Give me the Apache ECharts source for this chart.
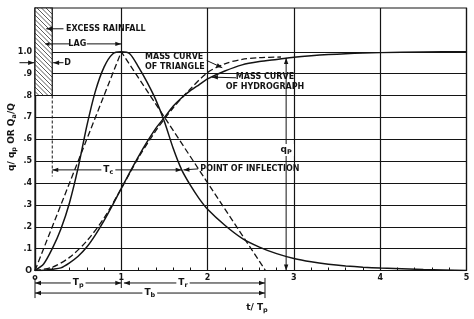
<!DOCTYPE html>
<html><head><meta charset="utf-8">
<script src="https://cdn.jsdelivr.net/npm/echarts@6/dist/echarts.min.js"></script>
<style>html,body{margin:0;padding:0;background:#fff}#c{width:474px;height:319px}</style>
</head><body><div id="c"></div>
<script>
// Dimensionless unit hydrograph
const tHydro    = [0,0.1,0.2,0.3,0.4,0.5,0.6,0.7,0.8,0.9,1.0,1.1,1.2,1.3,1.4,1.5,1.6,1.7,1.8,1.9,2.0,2.2,2.4,2.6,2.8,3.0,3.2,3.4,3.6,3.8,4.0,4.5,5.0];
const qHydro    = [0,0.03,0.10,0.19,0.31,0.47,0.66,0.82,0.93,0.99,1.0,0.99,0.93,0.86,0.78,0.68,0.56,0.46,0.39,0.33,0.28,0.207,0.147,0.107,0.077,0.055,0.04,0.029,0.021,0.015,0.011,0.005,0];
const massHydro = [0,0.001,0.006,0.012,0.035,0.065,0.107,0.163,0.228,0.30,0.375,0.45,0.522,0.589,0.65,0.70,0.751,0.79,0.822,0.849,0.876,0.912,0.940,0.955,0.965,0.975,0.982,0.987,0.991,0.994,0.996,0.999,1.0];
// Triangular hydrograph
const tTriangle = [0,1.0,2.67];
const qTriangle = [0,1.0,0];
// Mass curve of triangle
const tTriMass = [0,0.2,0.4,0.6,0.8,1.0,1.2,1.4,1.6,1.8,2.0,2.2,2.4,2.6,2.85];
const triMass  = [0,0.015,0.06,0.135,0.24,0.375,0.516,0.639,0.743,0.83,0.905,0.945,0.965,0.973,0.976];
// Horizontal grid values
const gridValues = [0.1,0.2,0.3,0.4,0.5,0.6,0.7,0.8,0.9,1.0];

const zip = (a,b)=>a.map((v,i)=>[v,b[i]]);
const INK = '#141414';
const FONT = 'DejaVu Sans';

const chart = echarts.init(document.getElementById('c'), null, {renderer:'canvas'});
chart.setOption({
  animation:false,
  backgroundColor:'#fff',
  grid:{left:35, right:7.5, top:8, bottom:48.5, show:true, borderColor:INK, borderWidth:1.2, backgroundColor:'transparent'},
  xAxis:{type:'value', min:0, max:5, interval:1,
    axisLine:{lineStyle:{color:INK,width:1.2}},
    axisTick:{show:true, inside:true, length:3, lineStyle:{color:INK}},
    minorTick:{show:true, splitNumber:5, length:3, lineStyle:{color:INK}},
    splitLine:{show:true, lineStyle:{color:INK,width:1.2}},
    axisLabel:{margin:3, fontSize:8, fontWeight:'bold', fontFamily:FONT, color:INK,
      formatter:v=> v===0 ? 'o' : String(v)}
  },
  yAxis:{type:'value', min:0, max:1.2, interval:0.1,
    axisLine:{show:true, lineStyle:{color:INK,width:1.2}},
    axisTick:{show:false},
    splitLine:{show:false},
    axisLabel:{margin:3, fontSize:8, fontWeight:'bold', fontFamily:FONT, color:INK,
      formatter:v=> v>1.01 ? '' : (v===0 ? 'O' : (v>0.99 ? '1.0' : '.'+Math.round(v*10)))}
  },
  series:[
    {type:'line', data:[], silent:true,
      markLine:{silent:true, symbol:'none', label:{show:false},
        lineStyle:{color:INK, width:1.2, type:'solid'},
        data:gridValues.map(v=>({yAxis:v}))}},
    {name:'hydrograph', type:'line', data:zip(tHydro,qHydro), smooth:0.25, symbol:'none',
      lineStyle:{color:INK,width:1.5}},
    {name:'mass hydrograph', type:'line', data:zip(tHydro,massHydro), smooth:0.25, symbol:'none',
      lineStyle:{color:INK,width:1.5}},
    {name:'triangle', type:'line', data:zip(tTriangle,qTriangle), symbol:'none',
      lineStyle:{color:INK,width:1.3,type:[6,3]}},
    {name:'mass triangle', type:'line', data:zip(tTriMass,triMass), smooth:0.3, symbol:'none',
      lineStyle:{color:INK,width:1.3,type:[6,3]}}
  ]
});

// Annotation helpers (positions in data units, mapped through the chart scale)
const o = chart.convertToPixel({gridIndex:0},[0,0]);
const u = chart.convertToPixel({gridIndex:0},[1,1]);
const P = (t,v)=>[o[0]+(u[0]-o[0])*t, o[1]+(u[1]-o[1])*v];
const G = [];
const Z = 50;
function line(a,b,w,dash){G.push({type:'line',z:Z,shape:{x1:a[0],y1:a[1],x2:b[0],y2:b[1]},style:{stroke:INK,lineWidth:w||1,lineDash:dash||null}});}
function head(from,tip,L,W){
  L=L||6;W=W||2.2;
  const dx=tip[0]-from[0], dy=tip[1]-from[1], d=Math.hypot(dx,dy)||1;
  const ux=dx/d, uy=dy/d, bx=tip[0]-ux*L, by=tip[1]-uy*L;
  G.push({type:'polygon',z:Z+1,shape:{points:[[tip[0],tip[1]],[bx-uy*W,by+ux*W],[bx+uy*W,by-ux*W]]},style:{fill:INK}});
}
function arrow(a,b,both){line(a,b,1);head(a,b);if(both)head(b,a);}
function text(t,v,str,align,opts){
  const p=P(t,v);
  G.push(Object.assign({type:'text',z:Z+2,x:p[0],y:p[1],style:Object.assign({text:str,fill:INK,
    font:'bold 8px "'+FONT+'"',align:align||'left',verticalAlign:'middle'},opts||{})}));
}
const rich = {a:{fontSize:9,fontWeight:'bold',fontFamily:FONT,fill:INK},s:{fontSize:6.5,fontWeight:'bold',fontFamily:FONT,fill:INK,padding:[5,0,0,0]}};
function richText(t,v,str,opts){
  const p=P(t,v);
  G.push({type:'text',z:Z+2,x:p[0],y:p[1],style:Object.assign({text:str,rich:rich,align:'center',verticalAlign:'middle',backgroundColor:'#fff',padding:[0,2]},opts||{})});
}

// Hatched excess rainfall box
(function(){
  const tl=P(0,1.2), br=P(0.2,0.8);
  const xL=tl[0], yT=tl[1], xR=br[0], yB=br[1], w=xR-xL, h=yB-yT;
  G.push({type:'rect',z:Z,shape:{x:xL,y:yT,width:w,height:h},style:{fill:'#fff',stroke:INK,lineWidth:1.2}});
  for(let k=4;k<w+h;k+=4.5){
    const s = k<=w ? [xL+k,yB] : [xR,yB-(k-w)];
    const e = k<=h ? [xL,yB-k] : [xL+(k-h),yT];
    G.push({type:'line',z:Z,shape:{x1:s[0],y1:s[1],x2:e[0],y2:e[1]},style:{stroke:INK,lineWidth:0.7}});
  }
})();
// vertical line at end of rainfall
line(P(0.2,0.8),P(0.2,0.43),1,[3,2]);

// EXCESS RAINFALL
text(0.36,1.105,'EXCESS RAINFALL');
arrow(P(0.33,1.105),P(0.13,1.105));
// LAG
line(P(0.12,1.036),P(0.4,1.036),1); head(P(0.3,1.036),P(0.12,1.036),4,2);
arrow(P(0.6,1.036),P(1.0,1.036));
text(0.49,1.036,'LAG','center');
// D
arrow(P(-0.18,0.95),P(-0.01,0.95));
arrow(P(0.33,0.95),P(0.21,0.95));
text(0.34,0.95,'D');
// Mass curve of triangle
text(1.275,0.977,'MASS CURVE');
text(1.275,0.931,'OF TRIANGLE');
arrow(P(1.99,0.96),P(2.17,0.927));
// Mass curve of hydrograph
text(2.665,0.886,'MASS CURVE','center');
text(2.665,0.840,'OF HYDROGRAPH','center');
arrow(P(2.33,0.881),P(2.05,0.884));
// Point of inflection
text(1.915,0.4645,'POINT OF INFLECTION');
arrow(P(1.89,0.4645),P(1.72,0.46));
// Tc
arrow(P(0.2,0.46),P(1.7,0.46),true);
richText(0.85,0.46,'{a|T}{s|c}');
// qp vertical
arrow(P(2.91,0.5),P(2.91,0.972));
arrow(P(2.91,0.5),P(2.91,0.0));
richText(2.91,0.551,'{a|q}{s|P}');
// Below axis: Tp, Tr, Tb
arrow(P(0,-0.057),P(1,-0.057),true);
richText(0.5,-0.057,'{a|T}{s|p}');
arrow(P(1.03,-0.057),P(2.665,-0.057),true);
richText(1.715,-0.057,'{a|T}{s|r}');
arrow(P(0,-0.103),P(2.665,-0.103),true);
richText(1.33,-0.103,'{a|T}{s|b}');
line(P(0,-0.034),P(0,-0.126),1);
line(P(1,-0.034),P(1,-0.08),1);
line(P(2.665,-0.034),P(2.665,-0.126),1);
richText(2.572,-0.172,'{a|t/ T}{s|p}');

// Y axis title
(function(){
  const p=P(-0.27,0.61);
  G.push({type:'text',z:Z+2,x:p[0],y:p[1],rotation:Math.PI/2,
    style:{text:'{a|q/ q}{s|p}{a| OR Q}{s|a}{a|/Q}',rich:rich,align:'center',verticalAlign:'middle'}});
})();

chart.setOption({graphic:G});
</script></body></html>
